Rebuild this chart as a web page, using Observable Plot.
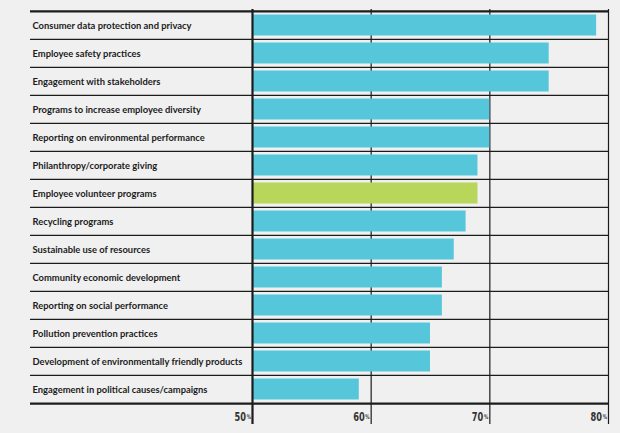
<!DOCTYPE html>
<html>
<head>
<meta charset="utf-8">
<script src="https://cdn.jsdelivr.net/npm/d3@7"></script>
<script src="https://cdn.jsdelivr.net/npm/@observablehq/plot@0.6"></script>
<style>
  html, body { margin: 0; padding: 0; background: #f0f0f0; }
  #chart svg { display: block; }
</style>
</head>
<body>
<div id="chart"></div>
<script>
const categories = [
  "Consumer data protection and privacy",
  "Employee safety practices",
  "Engagement with stakeholders",
  "Programs to increase employee diversity",
  "Reporting on environmental performance",
  "Philanthropy/corporate giving",
  "Employee volunteer programs",
  "Recycling programs",
  "Sustainable use of resources",
  "Community economic development",
  "Reporting on social performance",
  "Pollution prevention practices",
  "Development of environmentally friendly products",
  "Engagement in political causes/campaigns"
];
const values = [79, 75, 75, 70, 70, 69, 69, 68, 67, 66, 66, 65, 65, 59];
const highlighted = ["Employee volunteer programs"];
const tickValues = [50, 60, 70, 80];
const tickLabels = ["50", "60", "70", "80"];
const baseline = 50;

const data = categories.map((c, i) => ({category: c, value: values[i]}));
const ticks = tickValues.map((v, i) => ({value: v, label: tickLabels[i]}));

const W = 620, H = 433, mt = 9, mb = 29, ml = 252, mr = 12;
const bw = (H - mt - mb) / categories.length;
const ink = "#1c1c1c";
const tickFont = "'DejaVu Sans', sans-serif";

const chart = Plot.plot({
  width: W,
  height: H,
  marginTop: mt,
  marginBottom: mb,
  marginLeft: ml,
  marginRight: mr,
  style: {background: "#f0f0f0", fontFamily: "Lato, sans-serif"},
  x: {domain: [50, 80], axis: null},
  y: {domain: categories, axis: null, padding: 0},
  marks: [
    Plot.ruleX(tickValues.slice(1), {stroke: ink, strokeWidth: 1.2, insetBottom: -20}),
    Plot.barX(data.filter(d => !highlighted.includes(d.category)), {
      x1: baseline, x2: "value", y: "category",
      fill: "#56c7da", insetTop: 3.5, insetBottom: 3.5, insetLeft: 1
    }),
    Plot.barX(data.filter(d => highlighted.includes(d.category)), {
      x1: baseline, x2: "value", y: "category",
      fill: "#b8d659", insetTop: 3.5, insetBottom: 3.5, insetLeft: 1
    }),
    Plot.ruleY(categories.slice(1), {dy: -bw / 2, insetLeft: -222, stroke: ink, strokeWidth: 1.1}),
    Plot.ruleY([categories[0]], {dy: -bw / 2, insetLeft: -222, stroke: ink, strokeWidth: 2.4}),
    Plot.ruleY([categories[categories.length - 1]], {dy: bw / 2, insetLeft: -222, stroke: ink, strokeWidth: 2.4}),
    Plot.ruleX([baseline], {stroke: ink, strokeWidth: 2.2, insetBottom: -20}),
    Plot.text(data, {
      y: "category", text: "category", frameAnchor: "left", textAnchor: "start",
      dx: -220, dy: 0, fontSize: 9.4, fontWeight: "bold", fill: ink,
      fontFamily: "Lato, sans-serif"
    }),
    Plot.text(ticks, {
      x: "value", text: "label", frameAnchor: "bottom", textAnchor: "end",
      dx: -6.5, dy: 16.5, fontSize: 11.5, fontWeight: "bold", fill: "#333",
      fontFamily: tickFont
    }),
    Plot.text(ticks, {
      x: "value", text: () => "%", frameAnchor: "bottom", textAnchor: "end",
      dx: -1.5, dy: 14.5, fontSize: 6, fontWeight: "bold", fill: "#333",
      fontFamily: tickFont
    })
  ]
});

// condense the tick-label glyphs horizontally (anchored at their end point)
d3.select(chart).selectAll(`g[font-family="${tickFont}"] text`).each(function () {
  const t = this.getAttribute("transform") || "";
  const x = +this.getAttribute("x") || 0;
  const y = +this.getAttribute("y") || 0;
  this.removeAttribute("x");
  this.removeAttribute("y");
  this.setAttribute("transform", `${t} translate(${x},${y}) scale(0.72,1.08)`);
});

document.getElementById("chart").appendChild(chart);
</script>
</body>
</html>
